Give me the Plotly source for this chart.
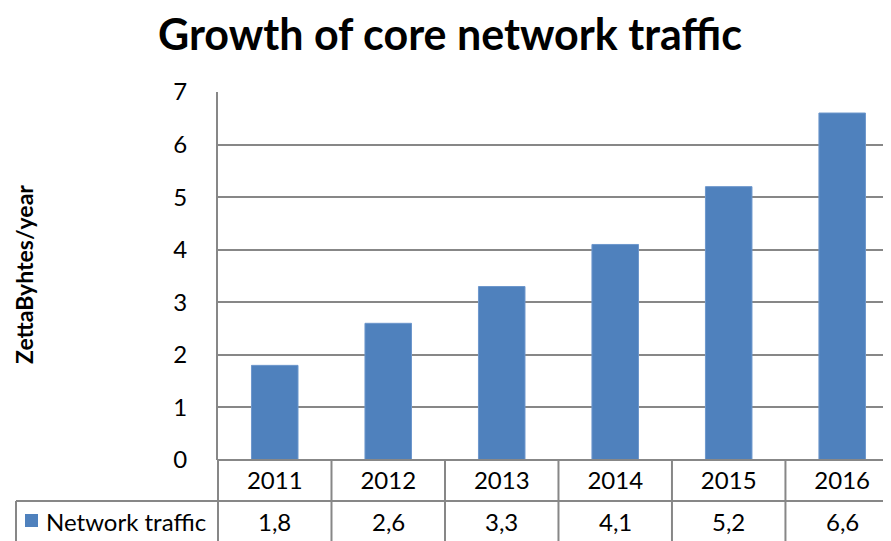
import plotly.graph_objects as go

years = ["2011", "2012", "2013", "2014", "2015", "2016"]
traffic = [1.8, 2.6, 3.3, 4.1, 5.2, 6.6]
value_labels = ["1,8", "2,6", "3,3", "4,1", "5,2", "6,6"]
series_name = "Network traffic"
title_text = "Growth of core network traffic"
ytitle_text = "ZettaByhtes/year"

OFF = 8  # default body margin of the page
W, H = 891 - OFF, 541 - OFF
ML, MR, MT, MB = 218 - OFF, 0, 92 - OFF, 541 - 460
pw, ph = W - ML - MR, H - MT - MB
xr = [-0.5, 5.43]
FONT = "Lato"
GRID = "#878787"
BLUE = "#4F81BD"
FS = 24

def xp(v):
    return (v - xr[0]) / (xr[1] - xr[0])

def px_x(p):  # page pixel x -> paper
    return (p - OFF - ML) / pw

def px_y(p):  # page pixel y -> paper
    return (H - MB - (p - OFF)) / ph

fig = go.Figure()
fig.add_trace(go.Bar(x=years, y=traffic, name=series_name,
                     marker=dict(color=BLUE, line=dict(color="#6d97cc", width=1)), width=0.41))

shapes = []
row_y = px_y(501)
bot_y = px_y(545)
left_x = px_x(16)
shapes.append(dict(type="line", xref="paper", yref="paper", x0=0, x1=1, y0=0, y1=0, line=dict(color=GRID, width=2)))
shapes.append(dict(type="line", xref="paper", yref="paper", x0=left_x, x1=1, y0=row_y, y1=row_y, line=dict(color=GRID, width=2)))
shapes.append(dict(type="line", xref="paper", yref="paper", x0=left_x, x1=left_x, y0=row_y, y1=bot_y, line=dict(color=GRID, width=2)))
for i in range(len(years)):
    xv = xp(i - 0.5)
    shapes.append(dict(type="line", xref="paper", yref="paper", x0=xv, x1=xv, y0=0, y1=bot_y, line=dict(color=GRID, width=2)))
shapes.append(dict(type="rect", xref="paper", yref="paper", x0=px_x(25), x1=px_x(38),
                   y0=px_y(514), y1=px_y(527), fillcolor=BLUE, line=dict(width=0)))

ann = []
for i, lab in enumerate(value_labels):
    ann.append(dict(x=xp(i), y=px_y(521), xref="paper", yref="paper", text=lab, showarrow=False,
                    font=dict(family=FONT, size=FS, color="black"), xanchor="center", yanchor="middle"))
ann.append(dict(x=px_x(44), y=px_y(521), xref="paper", yref="paper", text=series_name, showarrow=False,
                font=dict(family=FONT, size=FS, color="black"), xanchor="left", yanchor="middle"))
ann.append(dict(x=px_x(24), y=px_y(275), xref="paper", yref="paper", text="<b>" + ytitle_text + "</b>",
                textangle=-90, showarrow=False, font=dict(family=FONT, size=23, color="black"),
                xanchor="center", yanchor="middle"))

fig.update_layout(
    width=W, height=H,
    margin=dict(l=ML, r=MR, t=MT, b=MB),
    paper_bgcolor="white", plot_bgcolor="white",
    showlegend=False,
    title=dict(text="<b>" + title_text + "</b>", x=(450 - OFF) / W, xanchor="center",
               y=1 - (35 - OFF) / H, yanchor="middle", font=dict(family=FONT, size=43, color="black")),
    xaxis=dict(type="category", range=xr, showgrid=False, showline=False, ticks="",
               tickfont=dict(family=FONT, size=FS, color="black"), ticklabelstandoff=4, zeroline=False),
    yaxis=dict(range=[0, 7], dtick=1, showgrid=True, gridcolor=GRID, gridwidth=2, showline=True,
               linecolor=GRID, linewidth=2, ticks="", tickfont=dict(family=FONT, size=FS, color="black"),
               ticklabelstandoff=24, zeroline=False),
    shapes=shapes, annotations=ann,
)
fig.write_html("out.html")
